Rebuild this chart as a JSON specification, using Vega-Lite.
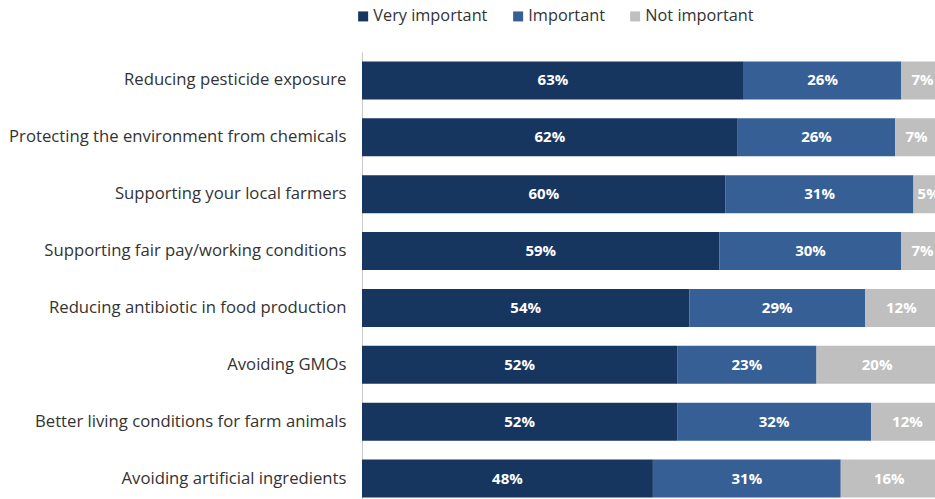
{
  "$schema": "https://vega.github.io/schema/vega-lite/v6.json",
  "autosize": {"type": "none"},
  "padding": {"left": 362, "top": 52, "right": 0, "bottom": 0},
  "width": 573,
  "height": 447,
  "background": "white",
  "config": {"view": {"stroke": null}, "font": "Open Sans"},
  "data": {
    "values": [
      {"item": "Reducing pesticide exposure", "category": "Very important", "value": 63},
      {"item": "Reducing pesticide exposure", "category": "Important", "value": 26},
      {"item": "Reducing pesticide exposure", "category": "Not important", "value": 7},
      {"item": "Protecting the environment from chemicals", "category": "Very important", "value": 62},
      {"item": "Protecting the environment from chemicals", "category": "Important", "value": 26},
      {"item": "Protecting the environment from chemicals", "category": "Not important", "value": 7},
      {"item": "Supporting your local farmers", "category": "Very important", "value": 60},
      {"item": "Supporting your local farmers", "category": "Important", "value": 31},
      {"item": "Supporting your local farmers", "category": "Not important", "value": 5},
      {"item": "Supporting fair pay/working conditions", "category": "Very important", "value": 59},
      {"item": "Supporting fair pay/working conditions", "category": "Important", "value": 30},
      {"item": "Supporting fair pay/working conditions", "category": "Not important", "value": 7},
      {"item": "Reducing antibiotic in food production", "category": "Very important", "value": 54},
      {"item": "Reducing antibiotic in food production", "category": "Important", "value": 29},
      {"item": "Reducing antibiotic in food production", "category": "Not important", "value": 12},
      {"item": "Avoiding GMOs", "category": "Very important", "value": 52},
      {"item": "Avoiding GMOs", "category": "Important", "value": 23},
      {"item": "Avoiding GMOs", "category": "Not important", "value": 20},
      {"item": "Better living conditions for farm animals", "category": "Very important", "value": 52},
      {"item": "Better living conditions for farm animals", "category": "Important", "value": 32},
      {"item": "Better living conditions for farm animals", "category": "Not important", "value": 12},
      {"item": "Avoiding artificial ingredients", "category": "Very important", "value": 48},
      {"item": "Avoiding artificial ingredients", "category": "Important", "value": 31},
      {"item": "Avoiding artificial ingredients", "category": "Not important", "value": 16}
    ]
  },
  "transform": [
    {"calculate": "indexof(['Very important','Important','Not important'], datum.category)", "as": "rank"},
    {"stack": "value", "groupby": ["item"], "sort": [{"field": "rank", "order": "ascending"}], "as": ["v0", "v1"]},
    {"calculate": "(datum.v0 + datum.v1) / 2", "as": "mid"},
    {"calculate": "datum.value + '%'", "as": "label"}
  ],
  "encoding": {
    "y": {
      "field": "item",
      "type": "nominal",
      "sort": null,
      "title": null,
      "scale": {"range": [0, 455], "paddingInner": 0.33, "paddingOuter": 0.165},
      "axis": {
        "ticks": false,
        "domainColor": "#c8c8c8",
        "domainWidth": 1,
        "labelFontSize": 16.7,
        "labelColor": "#333333",
        "labelPadding": 16,
        "labelLimit": 400
      }
    }
  },
  "layer": [
    {
      "mark": {"type": "bar", "clip": true},
      "encoding": {
        "x": {"field": "v0", "type": "quantitative", "scale": {"domain": [0, 94.55], "nice": false, "zero": true}, "axis": null},
        "x2": {"field": "v1"},
        "color": {
          "field": "category",
          "type": "nominal",
          "title": null,
          "scale": {"domain": ["Very important", "Important", "Not important"], "range": ["#16355f", "#365f96", "#bfbfbf"]},
          "legend": {
            "orient": "none",
            "direction": "horizontal",
            "legendX": -7,
            "legendY": -44,
            "symbolType": "square",
            "symbolSize": 100,
            "symbolStrokeWidth": 0,
            "labelFontSize": 16.3,
            "labelColor": "#333333",
            "labelOffset": 2,
            "columnPadding": 22
          }
        }
      }
    },
    {
      "mark": {"type": "text", "clip": true, "color": "white", "fontWeight": "bold", "fontSize": 15, "align": "center", "baseline": "middle"},
      "encoding": {
        "x": {"field": "mid", "type": "quantitative"},
        "text": {"field": "label", "type": "nominal"}
      }
    }
  ]
}
